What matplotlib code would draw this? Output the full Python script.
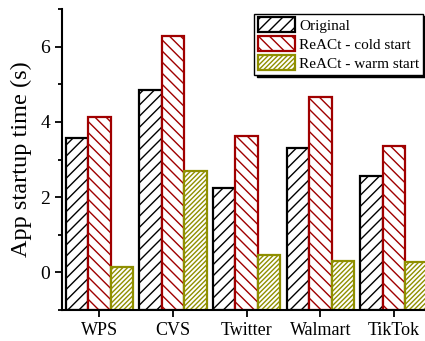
import numpy as np
import matplotlib
matplotlib.use("Agg")
import matplotlib.pyplot as plt
from matplotlib.ticker import MultipleLocator

apps = ["WPS", "CVS", "Twitter", "Walmart", "TikTok"]
original = [3.57, 4.85, 2.24, 3.31, 2.55]
cold_start = [4.13, 6.27, 3.62, 4.65, 3.35]
warm_start = [0.13, 2.69, 0.45, 0.29, 0.27]
series_names = ["Original", "ReACt - cold start", "ReACt - warm start"]

plt.rcParams['font.family'] = ['Liberation Serif', 'DejaVu Serif']
plt.rcParams['hatch.linewidth'] = 1.0

fig = plt.figure(figsize=(4.25, 3.41), dpi=100)
ax = fig.add_axes([62 / 425, 1 - 310 / 341, 363 / 425, 301 / 341])

x = np.arange(len(apps))
w = 0.305
base = -1.0  # bars run down to the bottom of the axis
styles = [
    dict(edgecolor='black', hatch='///'),
    dict(edgecolor='#a00000', hatch='\\\\\\'),
    dict(edgecolor='#8f8f00', hatch='///////'),
]
for k, (vals, name) in enumerate(zip([original, cold_start, warm_start], series_names)):
    heights = np.array(vals) - base
    ax.bar(x + (k - 1) * w, heights, w, bottom=base, label=name,
           facecolor='white', linewidth=1.6, **styles[k])

ax.set_xlim(-0.506, 4.42)
ax.set_ylim(-1.0, 7.0)
ax.set_xticks(x)
ax.set_xticklabels(apps, fontsize=13)
ax.yaxis.set_major_locator(MultipleLocator(2))
ax.yaxis.set_minor_locator(MultipleLocator(1))
ax.tick_params(axis='y', labelsize=14, width=1.3, length=5)
ax.tick_params(axis='y', which='minor', width=1.3, length=3)
ax.tick_params(axis='x', width=1.3, length=5)
ax.set_ylabel("App startup time (s)", fontsize=17.5, labelpad=6)

for s in ['top', 'right']:
    ax.spines[s].set_visible(False)
for s in ['left', 'bottom']:
    ax.spines[s].set_linewidth(1.5)

leg = ax.legend(loc='upper right', bbox_to_anchor=(0.995, 0.985), fontsize=11,
                frameon=True, fancybox=False, shadow={'color': 'black', 'alpha': 1},
                handlelength=2.4, handleheight=1.15, borderpad=0.25,
                labelspacing=0.2, handletextpad=0.3, borderaxespad=0.0)
leg.get_frame().set_edgecolor('black')
leg.get_frame().set_linewidth(1.0)

fig.savefig("out.png", dpi=100)
